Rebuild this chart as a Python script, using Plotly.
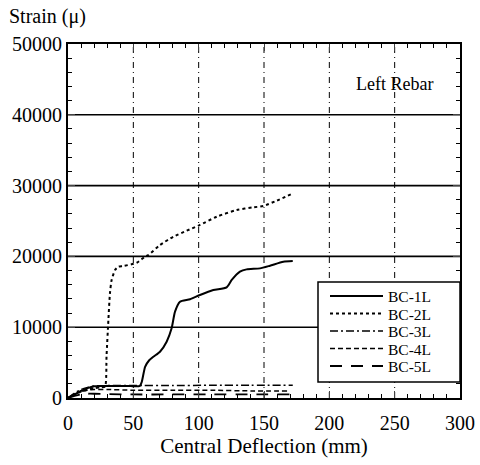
import plotly.graph_objects as go

# ---- data ----
bc1_x = [0, 5, 10, 15, 20, 25, 35, 45, 55, 56.5, 59, 62, 65.3, 70.4, 75.5, 79.3, 81.9, 85.7, 93.4, 101, 111.2, 121.4, 125.3, 131.6, 136.7, 146.9, 154.6, 164.8, 172]
bc1_y = [0, 500, 1000, 1400, 1650, 1700, 1700, 1700, 1700, 2300, 4400, 5300, 5830, 6540, 7950, 9840, 12190, 13600, 13940, 14550, 15250, 15630, 16670, 17840, 18170, 18310, 18690, 19250, 19350]

bc2_x = [0, 5, 10, 15, 20, 25, 28.3, 29.5, 30.9, 32.1, 33.4, 36, 38.5, 42.3, 52.6, 58.9, 61.5, 70.4, 80.6, 90.8, 101, 113.8, 129.1, 141.8, 149.5, 159.7, 171]
bc2_y = [0, 500, 900, 1200, 1400, 1500, 1600, 6000, 11000, 14780, 16670, 18080, 18550, 18640, 19100, 19960, 20200, 21610, 22780, 23630, 24440, 25610, 26550, 26930, 27120, 27870, 28810]

bc3_x = [0, 5, 10, 15, 20, 30, 50, 80, 110, 140, 172]
bc3_y = [0, 700, 1200, 1500, 1700, 1750, 1750, 1750, 1800, 1800, 1800]

bc4_x = [0, 5, 10, 15, 20, 30, 50, 80, 110, 140, 170]
bc4_y = [0, 500, 900, 1100, 1200, 1200, 1100, 1100, 1100, 1000, 1000]

bc5_x = [0, 5, 10, 15, 20, 30, 50, 80, 110, 140, 170]
bc5_y = [0, 300, 500, 600, 600, 550, 500, 500, 500, 500, 500]

series_names = ["BC-1L", "BC-2L", "BC-3L", "BC-4L", "BC-5L"]
series_dash = ["solid", "dot", "8px,3px,2px,3px", "5px,3px", "12px,9px"]
series_width = [2, 2, 1.5, 1.5, 1.8]

x_ticks = [0, 50, 100, 150, 200, 250, 300]
y_ticks = [0, 10000, 20000, 30000, 40000, 50000]
y_ticktext = ["0", "10000", "20000", "30000", "40000", "50000"]

FONT = "Liberation Serif"

fig = go.Figure()
xs = [bc1_x, bc2_x, bc3_x, bc4_x, bc5_x]
ys = [bc1_y, bc2_y, bc3_y, bc4_y, bc5_y]
for name, x, y, d, w in zip(series_names, xs, ys, series_dash, series_width):
    fig.add_trace(go.Scatter(x=x, y=y, mode="lines", name=name, showlegend=False,
                             line=dict(color="black", width=w, dash=d, shape="spline", smoothing=0.6)))

# horizontal solid gridlines & vertical dash-dot gridlines
shapes = []
for v in y_ticks[1:-1]:
    shapes.append(dict(type="line", xref="paper", yref="y", x0=0, x1=1, y0=v, y1=v,
                       line=dict(color="black", width=1.6), layer="below"))
for v in x_ticks[1:-1]:
    shapes.append(dict(type="line", xref="x", yref="paper", x0=v, x1=v, y0=0, y1=1,
                       line=dict(color="black", width=1, dash="6px,4px,1px,4px"), layer="below"))

# manual legend box (paper coords of a 392x354 plot area)
W, H = 392.0, 354.0
def px2paper(px, py):
    return (px - 68) / W, (398 - py) / H
bx0, by0 = px2paper(318, 382)
bx1, by1 = px2paper(460, 282)
shapes.append(dict(type="rect", xref="paper", yref="paper", x0=bx0, x1=bx1, y0=by0, y1=by1,
                   line=dict(color="black", width=1.5), fillcolor="white", layer="above"))
annotations = []
ROW = 17.5
for i, (d, w) in enumerate(zip(series_dash, series_width)):
    py = 296 + i * ROW
    lx0, ly = px2paper(330, py)
    lx1, _ = px2paper(383, py)
    shapes.append(dict(type="line", xref="paper", yref="paper", x0=lx0, x1=lx1, y0=ly, y1=ly,
                       line=dict(color="black", width=w, dash=d), layer="above"))
# legend labels: one text block, line spacing = 1.3 * base font
legend_text = "<br>".join('<span style="font-size:15.5px">%s</span>' % n for n in series_names)
tx, ty = px2paper(386, 296 + 2 * ROW)
annotations.append(dict(text=legend_text, xref="paper", yref="paper", x=tx, y=ty, xanchor="left",
                        yanchor="middle", align="left", showarrow=False,
                        font=dict(family=FONT, size=ROW / 1.3, color="black")))

ax, ay = px2paper(7, 16)
annotations.append(dict(text="Strain (μ)", xref="paper", yref="paper", x=ax, y=ay, xanchor="left",
                        yanchor="middle", showarrow=False, font=dict(family=FONT, size=20, color="black")))
lx, ly = px2paper(394, 84)
annotations.append(dict(text="Left Rebar", xref="paper", yref="paper", x=lx, y=ly, xanchor="center",
                        yanchor="middle", showarrow=False, font=dict(family=FONT, size=18, color="black")))

fig.update_layout(
    width=480, height=465,
    margin=dict(l=68, r=20, t=44, b=67),
    paper_bgcolor="white", plot_bgcolor="white",
    font=dict(family=FONT, color="black"),
    shapes=shapes, annotations=annotations,
    showlegend=False,
)
fig.update_xaxes(range=[0, 300], tickvals=x_ticks, ticks="inside", ticklen=7, tickwidth=1.3,
                 showline=True, linecolor="black", linewidth=2.2, mirror="ticks", showgrid=False,
                 zeroline=False, tickfont=dict(family=FONT, size=20), automargin=False,
                 ticklabelstandoff=6,
                 minor=dict(dtick=10, ticks="inside", ticklen=4, tickwidth=1.1, tickcolor="black"),
                 title=dict(text="Central Deflection (mm)", font=dict(family=FONT, size=21), standoff=5))
fig.update_yaxes(range=[0, 50000], tickvals=y_ticks, ticktext=y_ticktext, ticks="inside", ticklen=7,
                 tickwidth=1.3, showline=True, linecolor="black", linewidth=2.2, mirror="ticks",
                 showgrid=False, zeroline=False, tickfont=dict(family=FONT, size=20), automargin=False,
                 minor=dict(dtick=2000, ticks="inside", ticklen=4, tickwidth=1.1, tickcolor="black"))

fig.write_html("out.html")
